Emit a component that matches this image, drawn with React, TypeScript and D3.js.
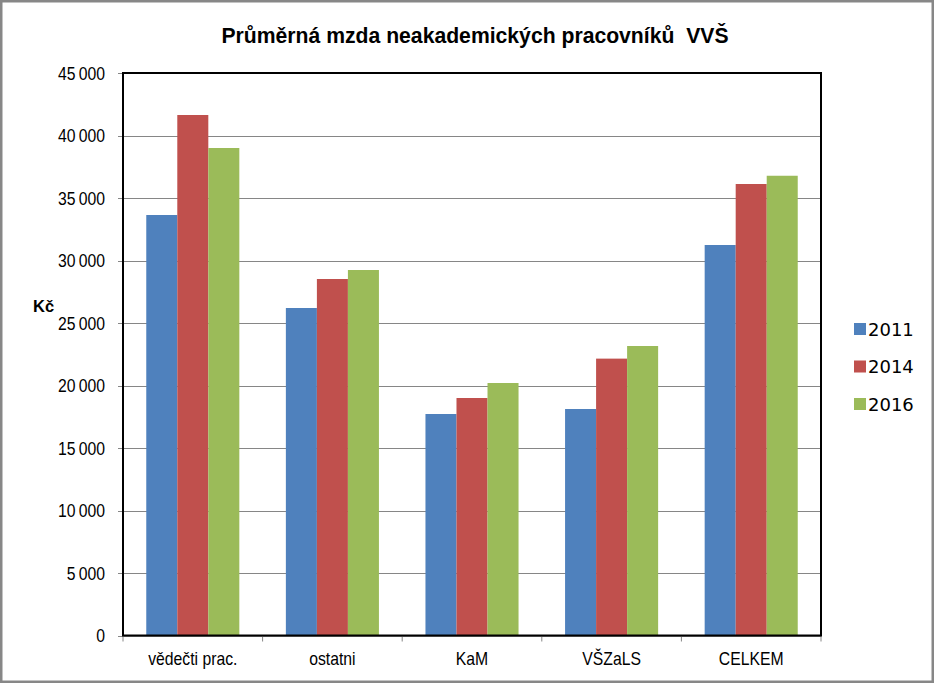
import React from "react";
import * as d3 from "d3";

const categories = ["vědečti prac.", "ostatni", "KaM", "VŠZaLS", "CELKEM"];
const seriesNames = ["2011", "2014", "2016"];
const values2011 = [33640, 26200, 17720, 18120, 31240];
const values2014 = [41640, 28520, 19000, 22150, 36120];
const values2016 = [39000, 29240, 20200, 23160, 36780];
const colors = ["#4f81bd", "#c0504d", "#9bbb59"];
const yTicks = [0, 5000, 10000, 15000, 20000, 25000, 30000, 35000, 40000, 45000];
const title = "Průměrná mzda neakademických pracovníků  VVŠ";
const yLabel = "Kč";

const W = 934;
const H = 683;
const left = 123;
const right = 821;
const top = 73;
const bottom = 635.5;

export default function App() {
  const series = [values2011, values2014, values2016];
  const x = d3.scaleBand<string>().domain(categories).range([left, right]).paddingInner(0).paddingOuter(0);
  const inner = d3
    .scaleBand<string>()
    .domain(seriesNames)
    .range([0, x.bandwidth()])
    .paddingInner(0)
    .paddingOuter(0.75);
  const y = d3.scaleLinear().domain([0, 45000]).range([bottom, top]);
  const fmt = (v: number) => d3.format(",")(v).replace(/,/g, "\u2009");
  const tickFont = "'Liberation Sans', Arial, sans-serif";
  const sx = 0.9;

  return (
    <svg
      width={W}
      height={H}
      style={{ position: "absolute", left: 0, top: 0, background: "#fff" }}
      xmlns="http://www.w3.org/2000/svg"
    >
      <rect x={1.25} y={1.25} width={W - 2.5} height={H - 2.5} fill="#fff" stroke="#878787" strokeWidth={2.5} />
      <text
        x={(left + right) / 2 + 3}
        y={43}
        textAnchor="middle"
        fontFamily="'Liberation Sans', Arial, sans-serif"
        fontWeight="bold"
        fontSize={21.5}
        fill="#000"
        textLength={507}
        lengthAdjust="spacingAndGlyphs"
        style={{ whiteSpace: "pre" }}
      >
        {title}
      </text>
      {/* gridlines */}
      {yTicks.map((t) => (
        <g key={t}>
          <line x1={left - 5} x2={right} y1={Math.round(y(t)) + 0.5} y2={Math.round(y(t)) + 0.5} stroke="#868686" strokeWidth={1} />
          <g transform={`translate(105,${y(t) + 6.5}) scale(${sx},1)`}>
            <text x={0} y={0} textAnchor="end" fontFamily={tickFont} fontSize={17.5} fill="#000">
              {fmt(t)}
            </text>
          </g>
        </g>
      ))}
      {/* bars */}
      {categories.map((c, i) => (
        <g key={c}>
          {series.map((s, j) => (
            <rect
              key={j}
              x={(x(c) as number) + (inner(seriesNames[j]) as number)}
              y={y(s[i])}
              width={inner.bandwidth()}
              height={bottom - y(s[i])}
              fill={colors[j]}
            />
          ))}
        </g>
      ))}
      {/* x ticks */}
      {[...categories.map((c) => x(c) as number), right].map((v, i) => (
        <line key={i} x1={v} x2={v} y1={bottom} y2={bottom + 6} stroke="#868686" strokeWidth={1} />
      ))}
      {/* plot border */}
      <rect x={left} y={top} width={right - left} height={bottom - top} fill="none" stroke="#000" strokeWidth={2} />
      {/* x labels */}
      {categories.map((c) => (
        <g key={c} transform={`translate(${(x(c) as number) + x.bandwidth() / 2},665) scale(${sx},1)`}>
          <text x={0} y={0} textAnchor="middle" fontFamily={tickFont} fontSize={17.5} fill="#000">
            {c}
          </text>
        </g>
      ))}
      <text x={33} y={312} fontFamily="'Liberation Sans', Arial, sans-serif" fontWeight="bold" fontSize={16.5} fill="#000">
        {yLabel}
      </text>
      {/* legend */}
      {seriesNames.map((s, j) => {
        const cy = 329 + j * 37.5;
        return (
          <g key={s}>
            <rect x={854} y={cy - 6} width={12} height={12} fill={colors[j]} />
            <text x={868} y={cy + 6.5} fontFamily="'DejaVu Sans', sans-serif" fontSize={18} fill="#000">
              {s}
            </text>
          </g>
        );
      })}
    </svg>
  );
}
